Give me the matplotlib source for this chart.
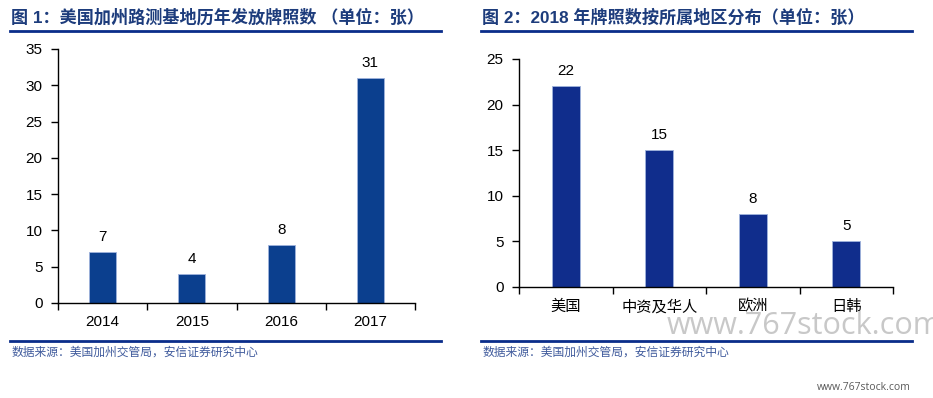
import matplotlib
matplotlib.use('Agg')
import matplotlib.pyplot as plt
from matplotlib.lines import Line2D

plt.rcParams['font.family'] = ['Liberation Sans', 'Noto Sans CJK SC', 'DejaVu Sans']

# data
years = ['2014', '2015', '2016', '2017']
permits = [7, 4, 8, 31]
regions = ['美国', '中资及华人', '欧洲', '日韩']
region_counts = [22, 15, 8, 5]

title1 = '图 1：美国加州路测基地历年发放牌照数 （单位：张）'
title2 = '图 2：2018 年牌照数按所属地区分布（单位：张）'
source = '数据来源：美国加州交管局，安信证券研究中心'

W, H = 933, 398
fig = plt.figure(figsize=(W / 100, H / 100), dpi=100)
navy = '#0a2d8a'
title_col = '#1d3c7c'


def px_axes(x0, y0, x1, y1):
    return fig.add_axes([x0 / W, 1 - y1 / H, (x1 - x0) / W, (y1 - y0) / H])


def bar_panel(ax, cats, vals, color, ymax, step):
    x = list(range(len(cats)))
    ax.bar(x, vals, width=0.3, color=color, edgecolor='#9fb3dc', linewidth=0.6, zorder=2)
    for xi, v in zip(x, vals):
        ax.annotate(str(v), (xi, v), xytext=(0, 11), textcoords='offset points',
                    ha='center', va='center', fontsize=11)
    ax.set_xlim(-0.5, len(cats) - 0.5)
    ax.set_ylim(0, ymax)
    ax.set_yticks(range(0, ymax + 1, step))
    ax.set_xticks(x)
    ax.set_xticklabels(cats)
    ax.set_xticks([i - 0.5 for i in range(len(cats) + 1)], minor=True)
    ax.tick_params(axis='x', which='major', length=0, pad=9, labelsize=11)
    ax.tick_params(axis='x', which='minor', length=5, width=1, direction='out')
    ax.tick_params(axis='y', length=5, width=1, labelsize=11, pad=6)
    for s in ['top', 'right']:
        ax.spines[s].set_visible(False)
    for s in ['left', 'bottom']:
        ax.spines[s].set_linewidth(1)


ax1 = px_axes(58, 49, 415, 303)
bar_panel(ax1, years, permits, '#0b3f8e', 35, 5)

ax2 = px_axes(519, 59, 893, 287)
bar_panel(ax2, regions, region_counts, '#102d8c', 25, 5)

# titles, rules, sources
for x0, x1, t in [(10, 441, title1), (481, 912, title2)]:
    fig.text(x0 / W + 0.001, 1 - 17 / H, t, fontsize=12.3, fontweight='bold',
             color=title_col, ha='left', va='center')
    fig.add_artist(Line2D([x0 / W, x1 / W], [1 - 31 / H] * 2, color=navy, lw=2))
    fig.add_artist(Line2D([x0 / W, x1 / W], [1 - 341 / H] * 2, color=navy, lw=2))
    fig.text(x0 / W + 0.002, 1 - 353 / H, source, fontsize=8.5, style='italic',
             color='#3f5a9c', ha='left', va='center')

# watermarks
fig.text(667 / W, 1 - 326 / H, 'www.767stock.com', fontsize=22, color='#c8c8c8',
         family='Open Sans', ha='left', va='center')
fig.text(817 / W, 1 - 387 / H, 'www.767stock.com', fontsize=7.5, color='#5a5a5a',
         family='Open Sans', ha='left', va='center')

fig.savefig('out.png', dpi=100)
